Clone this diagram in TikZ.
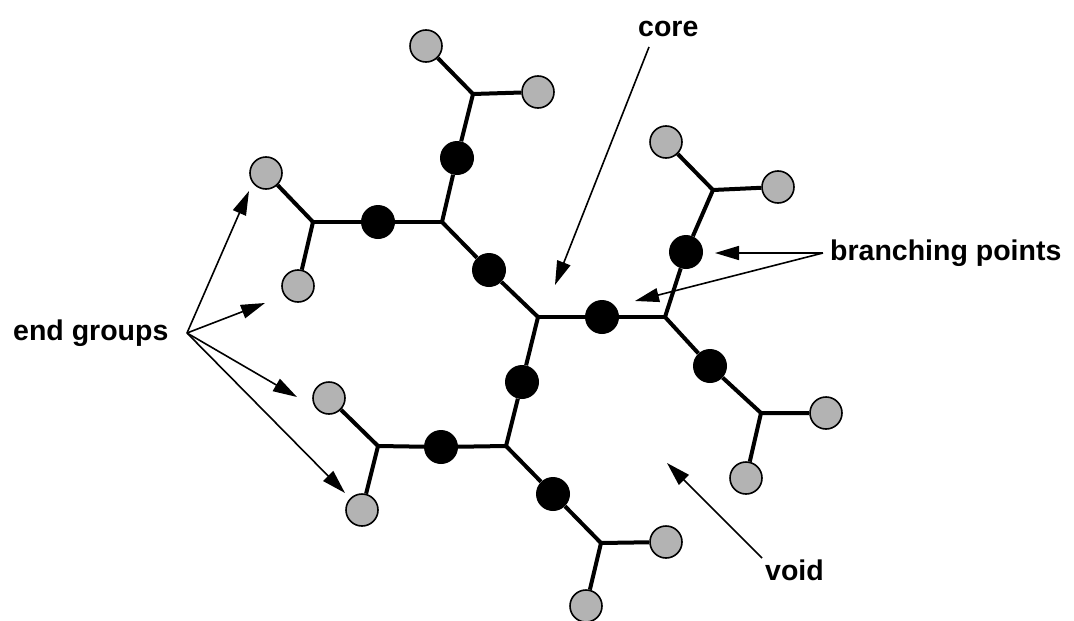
\documentclass[tikz,border=0pt]{standalone}
\usepackage{fontspec}
\setmainfont{Liberation Sans}
\usetikzlibrary{arrows.meta}
\definecolor{egfill}{RGB}{179,179,179}
\begin{document}
\begin{tikzpicture}[x=1pt,y=-1pt,
  bond/.style={line width=4pt},
  bpt/.style={circle,fill=black,minimum size=34pt,inner sep=0pt},
  egrp/.style={circle,draw=black,line width=1.6pt,fill=egfill,minimum size=32pt,inner sep=0pt},
  lbl/.style={font=\bfseries\fontsize{28.5}{30}\selectfont,inner sep=0pt,anchor=base west},
  pointer/.style={line width=1.6pt,-{Triangle[length=24pt,width=14pt]}}]
\useasboundingbox (0,0) rectangle (1074,621);
% junctions
\coordinate (C) at (538,317);
\coordinate (R) at (665,317);
\coordinate (UL) at (442,222);
\coordinate (D) at (506,446);
\coordinate (R1) at (713,190);
\coordinate (R2) at (761,413);
\coordinate (UL1) at (473,94);
\coordinate (UL2) at (313,222);
\coordinate (D1) at (378,446);
\coordinate (D2) at (601,543);
% branching points
\node[bpt] (b1) at (602,317) {};
\node[bpt] (b2) at (489,270) {};
\node[bpt] (b3) at (522,382) {};
\node[bpt] (b4) at (686,252) {};
\node[bpt] (b5) at (710,366) {};
\node[bpt] (b6) at (457,158) {};
\node[bpt] (b7) at (378,222) {};
\node[bpt] (b8) at (441,447) {};
\node[bpt] (b9) at (553,494) {};
% end groups
\node[egrp] (g1) at (666,142) {};
\node[egrp] (g2) at (778,187) {};
\node[egrp] (g3) at (826,413) {};
\node[egrp] (g4) at (746,478) {};
\node[egrp] (g5) at (426,46) {};
\node[egrp] (g6) at (538,92) {};
\node[egrp] (g7) at (266,173) {};
\node[egrp] (g8) at (298,286) {};
\node[egrp] (g9) at (329,398) {};
\node[egrp] (g10) at (362,510) {};
\node[egrp] (g11) at (666,542) {};
\node[egrp] (g12) at (586,606) {};
% bonds
\draw[bond] (C) -- (b1) (b1) -- (R);
\draw[bond] (C) -- (b2) (b2) -- (UL);
\draw[bond] (C) -- (b3) (b3) -- (D);
\draw[bond] (R) -- (b4) (b4) -- (R1);
\draw[bond] (R) -- (b5) (b5) -- (R2);
\draw[bond] (UL) -- (b6) (b6) -- (UL1);
\draw[bond] (UL) -- (b7) (b7) -- (UL2);
\draw[bond] (D) -- (b8) (b8) -- (D1);
\draw[bond] (D) -- (b9) (b9) -- (D2);
\draw[bond] (R1) -- (g1) (R1) -- (g2);
\draw[bond] (R2) -- (g3) (R2) -- (g4);
\draw[bond] (UL1) -- (g5) (UL1) -- (g6);
\draw[bond] (UL2) -- (g7) (UL2) -- (g8);
\draw[bond] (D1) -- (g9) (D1) -- (g10);
\draw[bond] (D2) -- (g11) (D2) -- (g12);
% labels
\node[lbl] (core) at (638,36) {core};
\node[lbl] (branch) at (830,260) {branching points};
\node[lbl] (endg) at (13,340) {end groups};
\node[lbl] (void) at (765,580) {void};
% pointer ends
\coordinate (cs) at (649,47);
\coordinate (ct) at (555,285);
\coordinate (bs) at (823,253);
\coordinate (bt1) at (715,253);
\coordinate (bt2) at (635,301);
\coordinate (es) at (187,333);
\coordinate (et1) at (249,191);
\coordinate (et2) at (265,303);
\coordinate (et3) at (297,397);
\coordinate (et4) at (345,493);
\coordinate (vs) at (762,558);
\coordinate (vt) at (667,463);
\draw[pointer] (cs) -- (ct);
\draw[pointer] (bs) -- (bt1);
\draw[pointer] (bs) -- (bt2);
\draw[pointer] (es) -- (et1);
\draw[pointer] (es) -- (et2);
\draw[pointer] (es) -- (et3);
\draw[pointer] (es) -- (et4);
\draw[pointer] (vs) -- (vt);
\end{tikzpicture}
\end{document}
